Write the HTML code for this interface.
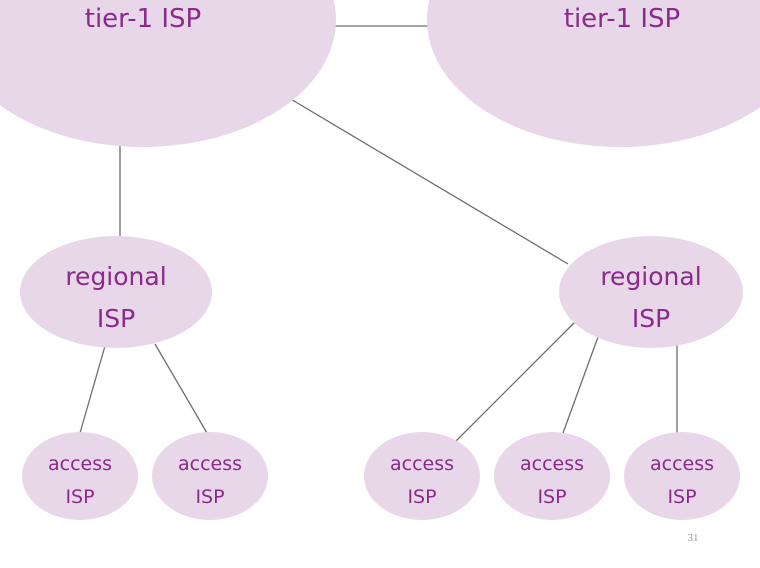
<!DOCTYPE html>
<html><head><meta charset="utf-8"><style>
html,body{margin:0;padding:0;background:#fff;}
svg{display:block;}
text{font-family:"DejaVu Sans","Liberation Sans",sans-serif;fill:#8a2a8a;text-anchor:middle;}
</style></head><body>
<svg width="760" height="568" viewBox="0 0 760 568" xmlns="http://www.w3.org/2000/svg">
<g stroke="#6e6e6e" stroke-width="1.3">
<line x1="330" y1="26" x2="432" y2="26"/>
<line x1="289" y1="98" x2="568" y2="264"/>
<line x1="120" y1="145" x2="120" y2="238"/>
<line x1="105" y1="346" x2="80" y2="433"/>
<line x1="155" y1="344" x2="207" y2="433"/>
<line x1="576" y1="321" x2="456" y2="441"/>
<line x1="598" y1="337" x2="563" y2="433"/>
<line x1="677" y1="345" x2="677" y2="433"/>
</g>
<g fill="#e8d6e9">
<ellipse cx="143" cy="20" rx="193" ry="127"/>
<ellipse cx="620" cy="20" rx="193" ry="127"/>
<ellipse cx="116" cy="292" rx="96" ry="56"/>
<ellipse cx="651" cy="292" rx="92" ry="56"/>
<ellipse cx="80" cy="476" rx="58" ry="44"/>
<ellipse cx="210" cy="476" rx="58" ry="44"/>
<ellipse cx="422" cy="476" rx="58" ry="44"/>
<ellipse cx="552" cy="476" rx="58" ry="44"/>
<ellipse cx="682" cy="476" rx="58" ry="44"/>
</g>
<g font-size="26">
<text x="143" y="27">tier-1 ISP</text>
<text x="622" y="27">tier-1 ISP</text>
</g>
<g font-size="25">
<text x="116" y="285">regional</text>
<text x="116" y="327">ISP</text>
<text x="651" y="285">regional</text>
<text x="651" y="327">ISP</text>
</g>
<g font-size="19">
<text x="80" y="470">access</text><text x="80" y="503">ISP</text>
<text x="210" y="470">access</text><text x="210" y="503">ISP</text>
<text x="422" y="470">access</text><text x="422" y="503">ISP</text>
<text x="552" y="470">access</text><text x="552" y="503">ISP</text>
<text x="682" y="470">access</text><text x="682" y="503">ISP</text>
</g>
<text x="693" y="541" font-size="11" style="fill:#999;font-family:'Liberation Serif',serif">31</text>
</svg>
</body></html>
